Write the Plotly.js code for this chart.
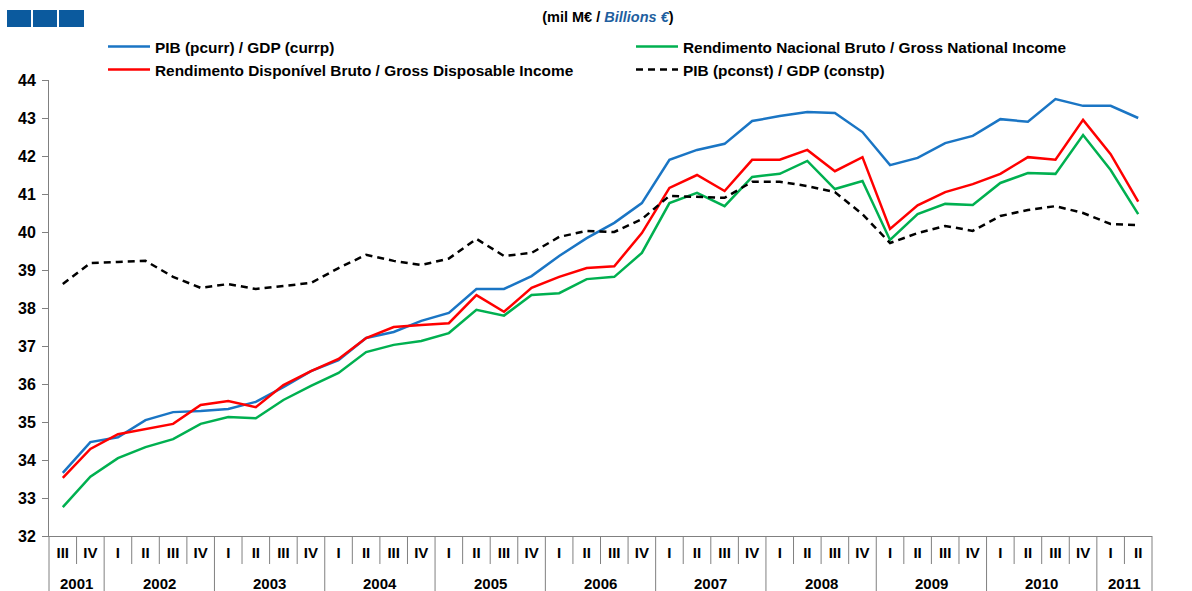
<!DOCTYPE html>
<html>
<head>
<meta charset="utf-8">
<script src="https://cdn.plot.ly/plotly-3.0.1.min.js"></script>
<style>
html,body{margin:0;padding:0;background:#fff;}
#chart{width:1192px;height:591px;}
</style>
</head>
<body>
<div id="chart"></div>
<script>
const years = ['2001','2001',
  '2002','2002','2002','2002',
  '2003','2003','2003','2003',
  '2004','2004','2004','2004',
  '2005','2005','2005','2005',
  '2006','2006','2006','2006',
  '2007','2007','2007','2007',
  '2008','2008','2008','2008',
  '2009','2009','2009','2009',
  '2010','2010','2010','2010',
  '2011','2011'];
const quarters = ['III','IV',
  'I','II','III','IV','I','II','III','IV','I','II','III','IV',
  'I','II','III','IV','I','II','III','IV','I','II','III','IV',
  'I','II','III','IV','I','II','III','IV','I','II','III','IV',
  'I','II'];

const gdpCurr = [33.66,34.47,34.6,35.05,35.26,35.29,35.34,35.53,35.92,36.34,36.63,37.21,37.37,37.66,37.87,38.5,38.5,38.84,39.37,39.84,40.24,40.76,41.9,42.16,42.32,42.92,43.05,43.16,43.13,42.63,41.76,41.95,42.34,42.53,42.97,42.9,43.5,43.32,43.32,43.0];
const gni = [32.76,33.56,34.05,34.34,34.55,34.95,35.13,35.1,35.58,35.95,36.29,36.84,37.03,37.13,37.34,37.95,37.8,38.34,38.39,38.76,38.82,39.45,40.76,41.03,40.68,41.45,41.53,41.87,41.13,41.34,39.79,40.47,40.74,40.71,41.29,41.55,41.53,42.55,41.63,40.47];
const gdi = [33.53,34.29,34.68,34.82,34.95,35.45,35.55,35.39,35.97,36.34,36.66,37.21,37.5,37.55,37.6,38.34,37.9,38.53,38.82,39.05,39.1,39.97,41.16,41.5,41.08,41.9,41.9,42.16,41.6,41.97,40.08,40.7,41.05,41.26,41.53,41.97,41.9,42.95,42.05,40.8];
const gdpConst = [38.63,39.18,39.21,39.24,38.82,38.53,38.63,38.5,38.58,38.66,39.05,39.4,39.24,39.13,39.3,39.82,39.37,39.45,39.87,40.03,40.0,40.34,40.95,40.92,40.9,41.32,41.32,41.21,41.05,40.47,39.71,39.97,40.16,40.03,40.42,40.58,40.68,40.5,40.21,40.18];

const names = {
  curr: 'PIB (pcurr) / GDP (currp)',
  gni: 'Rendimento Nacional Bruto / Gross National Income',
  gdi: 'Rendimento Disponível Bruto / Gross Disposable Income',
  cons: 'PIB (pconst) / GDP (constp)'
};

const FONT = 'Liberation Sans, Arial, sans-serif';
const nQ = quarters.length;
// unique category keys (year + quarter), labelled with the quarter only
const keys = years.map(function(y, i){ return y + ' ' + quarters[i]; });

// year groups: centres (in category index units) and boundaries
const yearList = [], yearCentres = [], yearBounds = [0];
years.forEach(function(y, i){
  if (i > 0 && y !== years[i - 1]) yearBounds.push(i);
});
yearBounds.push(nQ);
for (let k = 0; k < yearBounds.length - 1; k++) {
  yearList.push(years[yearBounds[k]]);
  yearCentres.push((yearBounds[k] + yearBounds[k + 1] - 1) / 2);
}

const traces = [
  {x: keys, y: gdpCurr, name: names.curr, type: 'scatter', mode: 'lines', line: {color: '#1a75c4', width: 2.5}},
  {x: keys, y: gni, name: names.gni, type: 'scatter', mode: 'lines', line: {color: '#00b050', width: 2.5}},
  {x: keys, y: gdi, name: names.gdi, type: 'scatter', mode: 'lines', line: {color: '#ff0000', width: 2.5}},
  {x: keys, y: gdpConst, name: names.cons, type: 'scatter', mode: 'lines', line: {color: '#000000', width: 2.5, dash: '7px,5px'}}
];

const PH = 456; // plot height in px
const PW = 1103; // plot width in px
const shapes = [];
for (let i = 0; i <= nQ; i++) {
  const isYear = yearBounds.indexOf(i) >= 0;
  shapes.push({type: 'line', xref: 'x domain', yref: 'paper', x0: i / nQ, x1: i / nQ,
    y0: 0, y1: isYear ? -56 / PH : -28 / PH,
    line: {color: '#808080', width: 1}});
}
// logo squares
[[7,31],[33,57],[59,84]].forEach(function(s){
  shapes.push({type: 'rect', xref: 'paper', yref: 'paper',
    x0: (s[0] - 49) / PW, x1: (s[1] - 49) / PW,
    y0: 1 + (80 - 27) / PH, y1: 1 + (80 - 10) / PH,
    fillcolor: '#0b5a9e', line: {width: 0}});
});

const xFont = {family: FONT, size: 15, color: '#000', weight: 'bold'};

// year labels, placed on the category scale at the centre of each year
const annotations = yearList.map(function(y, k){
  return {text: y, x: yearCentres[k], xref: 'x', y: -47 / PH, yref: 'paper',
    xanchor: 'center', yanchor: 'middle', showarrow: false, font: xFont};
});

const yCommon = {
  range: [32, 44], dtick: 1, tick0: 32, showgrid: false, zeroline: false,
  showline: true, linecolor: '#808080', linewidth: 1,
  tickfont: {family: FONT, size: 16, color: '#000', weight: 'bold'}
};

const layout = {
  width: 1192, height: 591,
  margin: {l: 49, r: 40, t: 80, b: 55},
  paper_bgcolor: '#fff', plot_bgcolor: '#fff',
  font: {family: FONT, color: '#000'},
  title: {
    text: '(mil M€ / <i><span style="color:#1f5f9f">Billions €</span></i>)',
    font: {family: FONT, size: 14.5, color: '#000', weight: 'bold'},
    x: 0.51, xanchor: 'center', y: 1 - 17 / 591, yanchor: 'middle', xref: 'container', yref: 'container'
  },
  showlegend: true,
  legend: {
    orientation: 'h', xref: 'paper', yref: 'paper',
    x: (103 - 49) / PW, xanchor: 'left', y: 1 + (80 - 30) / PH, yanchor: 'top',
    font: {family: FONT, size: 15.4, color: '#000', weight: 'bold'},
    entrywidth: 471, itemwidth: 42, tracegroupgap: 0,
    bgcolor: 'rgba(0,0,0,0)', traceorder: 'normal'
  },
  xaxis: {
    type: 'category', showgrid: false, zeroline: false,
    showline: true, linecolor: '#808080', linewidth: 1,
    tickmode: 'array', tickvals: keys, ticktext: quarters,
    ticks: 'outside', ticklen: 3, tickcolor: 'rgba(0,0,0,0)',
    tickfont: xFont, tickangle: 0,
    range: [-0.5, nQ - 0.5]
  },
  yaxis: Object.assign({}, yCommon, {side: 'left', ticks: 'outside', ticklen: 6, tickcolor: '#808080', ticklabelstandoff: 3}),
  yaxis2: Object.assign({}, yCommon, {side: 'right', overlaying: 'y', ticks: 'outside', ticklen: 6, tickcolor: '#808080', ticklabelstandoff: 3}),
  yaxis3: Object.assign({}, yCommon, {side: 'left', overlaying: 'y', ticks: 'inside', ticklen: 6, tickcolor: '#808080', showticklabels: false}),
  yaxis4: Object.assign({}, yCommon, {side: 'right', overlaying: 'y', ticks: 'inside', ticklen: 6, tickcolor: '#808080', showticklabels: false}),
  shapes: shapes,
  annotations: annotations
};

Plotly.newPlot('chart', traces, layout, {displayModeBar: false, staticPlot: true});
</script>
</body>
</html>
